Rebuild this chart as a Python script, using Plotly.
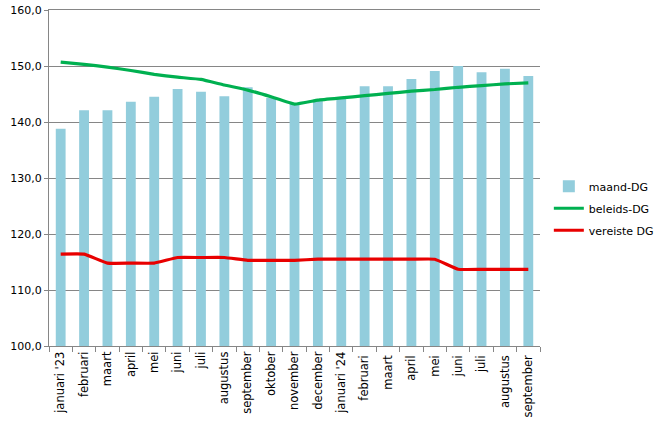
import plotly.graph_objects as go

categories = ["januari '23", "februari", "maart", "april", "mei", "juni", "juli",
              "augustus", "september", "oktober", "november", "december",
              "januari '24", "februari ", "maart ", "april ", "mei ", "juni ",
              "juli ", "augustus ", "september "]

maand_dg = [138.8, 142.1, 142.1, 143.6, 144.5, 145.9, 145.4, 144.6, 146.2, 144.3,
            143.2, 144.0, 144.4, 146.4, 146.4, 147.7, 149.1, 150.0, 148.9, 149.5, 148.2]

beleids_dg = [150.7, 150.3, 149.8, 149.2, 148.5, 148.0, 147.6, 146.6, 145.7, 144.5,
              143.2, 143.9, 144.3, 144.7, 145.1, 145.5, 145.8, 146.2, 146.5, 146.8, 147.0]

vereiste_dg = [116.4, 116.4, 114.8, 114.8, 114.8, 115.8, 115.8, 115.8, 115.3, 115.3,
               115.3, 115.5, 115.5, 115.5, 115.5, 115.5, 115.5, 113.7, 113.7, 113.7, 113.7]

font = "DejaVu Sans"

fig = go.Figure()
fig.add_trace(go.Bar(x=categories, y=maand_dg, name="maand-DG", legendgroup="a",
                     marker=dict(color="#92CDDC", line=dict(width=0))))
fig.add_trace(go.Scatter(x=categories, y=beleids_dg, name="beleids-DG", mode="lines",
                         legendgroup="b",
                         line=dict(color="#00B050", width=3.2, shape="spline", smoothing=0.3)))
fig.add_trace(go.Scatter(x=categories, y=vereiste_dg, name="vereiste DG", mode="lines",
                         legendgroup="c",
                         line=dict(color="#E80000", width=3.2, shape="spline", smoothing=0.3)))

fig.update_layout(
    width=661, height=422,
    margin=dict(l=49, r=121, t=10, b=76, autoexpand=False),
    paper_bgcolor="white", plot_bgcolor="white",
    bargap=0.58,
    separators=",.",
    font=dict(family=font, size=11, color="#000000"),
    showlegend=True,
    legend=dict(x=1.018, y=0.41, xanchor="left", yanchor="middle",
                font=dict(family=font, size=11, color="#000000"),
                traceorder="grouped", tracegroupgap=3, itemwidth=30),
    xaxis=dict(type="category", tickangle=-90, showgrid=False, automargin=False,
               showline=True, mirror=True, linecolor="#868686", linewidth=1,
               ticks="outside", tickson="boundaries", ticklen=5, tickcolor="#868686",
               tickfont=dict(family=font, size=11.5)),
    yaxis=dict(range=[100, 160], dtick=10, tickformat=".1f", automargin=False,
               showgrid=True, gridcolor="#868686", gridwidth=1,
               showline=True, linecolor="#868686", linewidth=1,
               ticks="outside", ticklen=4, tickcolor="#868686",
               zeroline=False, tickfont=dict(family=font, size=11)),
)

fig.write_html("out.html",
               config={"displayModeBar": False},
               post_script="document.body.style.margin='0';document.body.style.overflow='hidden';")
